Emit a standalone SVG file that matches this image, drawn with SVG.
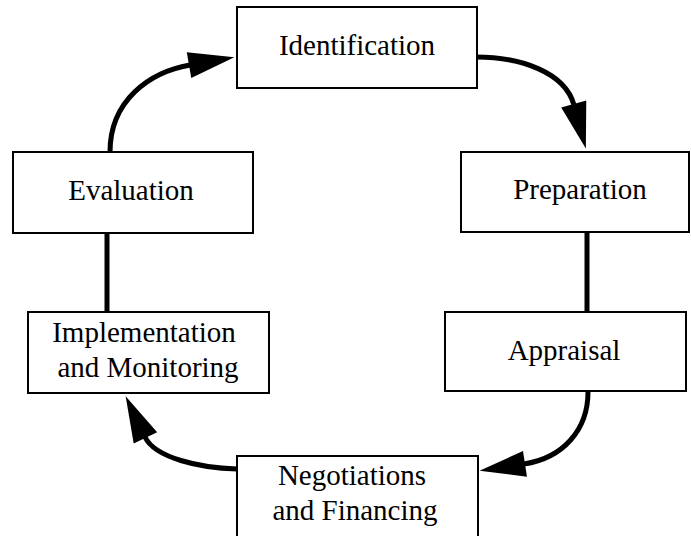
<svg xmlns="http://www.w3.org/2000/svg" width="691" height="536" viewBox="0 0 691 536">
  <style>
    .box { fill: #ffffff; stroke: #000000; stroke-width: 2; }
    .label { font-family: "Liberation Serif", "Times New Roman", serif; font-size: 29px; fill: #000000; text-anchor: middle; }
    .link { fill: none; stroke: #000000; stroke-width: 5; stroke-linecap: round; }
  </style>
  <defs>
    <marker id="head" markerUnits="userSpaceOnUse" markerWidth="50" markerHeight="30" refX="1" refY="15" orient="auto" overflow="visible">
      <polygon points="0,2 46,15 0,28" fill="#000000"/>
    </marker>
  </defs>

  <g id="connectors">
    <path class="link" d="M476,57 C520,57 565,72 574,105" marker-end="url(#head)"/>
    <line class="link" x1="587" y1="233" x2="587" y2="312" stroke-linecap="butt"/>
    <path class="link" d="M588,392 C588,430 563,458 524,464" marker-end="url(#head)"/>
    <path class="link" d="M237,469 C200,468 155,458 145,437" marker-end="url(#head)"/>
    <line class="link" x1="107" y1="233" x2="107" y2="312" stroke-linecap="butt"/>
    <path class="link" d="M110,152 C110,100 150,72 190,65" marker-end="url(#head)"/>
  </g>

  <g id="identification">
    <rect class="box" x="237" y="7" width="240" height="81"/>
    <text class="label" x="357" y="55">Identification</text>
  </g>

  <g id="preparation">
    <rect class="box" x="461" y="152" width="228" height="80"/>
    <text class="label" x="580" y="199">Preparation</text>
  </g>

  <g id="appraisal">
    <rect class="box" x="445" y="312" width="241" height="79"/>
    <text class="label" x="564" y="360">Appraisal</text>
  </g>

  <g id="negotiations">
    <rect class="box" x="237" y="456" width="241" height="84"/>
    <text class="label" x="352" y="485">Negotiations</text>
    <text class="label" x="355" y="520">and Financing</text>
  </g>

  <g id="implementation">
    <rect class="box" x="28" y="312" width="241" height="81"/>
    <text class="label" x="144" y="342">Implementation</text>
    <text class="label" x="148" y="377">and Monitoring</text>
  </g>

  <g id="evaluation">
    <rect class="box" x="13" y="152" width="240" height="81"/>
    <text class="label" x="131" y="200">Evaluation</text>
  </g>
</svg>
